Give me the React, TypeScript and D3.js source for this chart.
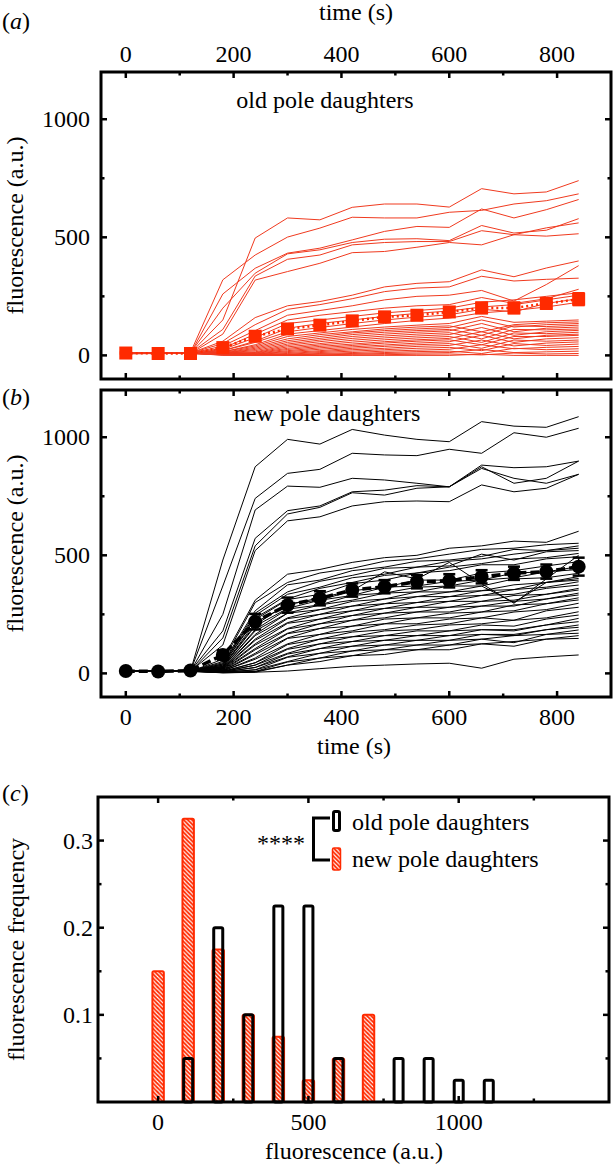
import React from 'react';
import * as d3 from 'd3';

// ---------- data ----------
const times = [0, 60, 120, 180, 240, 300, 360, 420, 480, 540, 600, 660, 720, 780, 840];

const oldPoleTraces: number[][] = [
  [12, 10, 10, 150, 497, 582, 574, 627, 641, 641, 628, 706, 684, 692, 740],
  [10, 8, 12, 320, 425, 501, 539, 585, 582, 582, 606, 614, 641, 655, 684],
  [8, 10, 8, 260, 369, 433, 454, 489, 525, 546, 542, 620, 582, 617, 660],
  [10, 12, 10, 200, 348, 430, 447, 478, 492, 494, 486, 550, 518, 530, 579],
  [6, 8, 10, 110, 336, 407, 425, 468, 478, 482, 482, 528, 511, 540, 561],
  [10, 10, 8, 90, 319, 355, 390, 435, 440, 458, 478, 468, 511, 505, 515],
  [8, 10, 10, 60, 160, 210, 228, 255, 290, 305, 312, 362, 333, 370, 400],
  [10, 8, 10, 50, 130, 195, 215, 240, 270, 285, 290, 335, 315, 322, 327],
  [10, 10, 8, 40, 105, 170, 190, 210, 235, 250, 255, 275, 230, 300, 380],
  [10, 8, 10, 30, 90, 150, 170, 185, 200, 210, 215, 245, 220, 240, 280],
  [8, 10, 8, 25, 75, 135, 150, 165, 180, 190, 200, 225, 235, 250, 265],
  [10, 10, 10, 20, 60, 115, 135, 150, 165, 178, 188, 205, 215, 235, 255],
  [8, 8, 10, 20, 55, 100, 118, 135, 150, 162, 172, 195, 185, 220, 240],
  [10, 8, 8, 15, 45, 90, 105, 120, 135, 148, 158, 180, 190, 205, 225],
  [8, 10, 10, 15, 40, 80, 95, 110, 120, 128, 135, 165, 140, 145, 150],
  [10, 10, 8, 12, 35, 70, 88, 100, 112, 120, 125, 100, 130, 138, 142],
  [8, 8, 10, 10, 30, 62, 80, 95, 105, 112, 118, 150, 120, 130, 135],
  [10, 10, 10, 10, 25, 55, 72, 88, 98, 105, 110, 85, 125, 122, 128],
  [8, 10, 8, 10, 20, 48, 65, 80, 90, 98, 104, 135, 100, 115, 120],
  [10, 8, 10, 10, 15, 42, 58, 72, 82, 90, 96, 70, 110, 108, 112],
  [8, 10, 10, 8, 12, 36, 50, 64, 74, 82, 88, 118, 85, 100, 106],
  [10, 10, 8, 8, 10, 30, 44, 56, 66, 74, 80, 55, 95, 92, 98],
  [8, 8, 10, 8, 8, 25, 38, 48, 58, 66, 72, 100, 70, 85, 90],
  [10, 10, 10, 8, 6, 20, 32, 42, 52, 60, 66, 45, 80, 80, 85],
  [8, 10, 8, 5, 5, 16, 26, 36, 44, 52, 58, 85, 55, 70, 75],
  [10, 8, 10, 5, 4, 12, 20, 30, 38, 45, 50, 30, 65, 60, 65],
  [8, 10, 8, 5, 3, 8, 16, 24, 30, 38, 42, 65, 40, 52, 57],
  [10, 10, 10, 5, 2, 5, 12, 18, 24, 30, 34, 20, 50, 42, 48],
  [8, 8, 10, 3, 2, 3, 8, 12, 18, 22, 26, 45, 28, 34, 38],
  [10, 10, 8, 3, 1, 2, 5, 8, 12, 16, 18, 8, 30, 24, 28],
  [8, 10, 10, 2, 0, 0, 2, 5, 8, 10, 12, 25, 12, 15, 18],
  [10, 8, 8, 2, 0, 0, 0, 2, 3, 5, 6, 2, 10, 6, 8],
  [8, 10, 10, 0, 0, 0, 0, 0, 0, 0, 0, 5, 0, 0, 0],
];

const newPoleTraces: number[][] = [
  [10, 8, 10, 480, 875, 991, 971, 1033, 1009, 991, 981, 1066, 1047, 1042, 1087],
  [8, 10, 10, 370, 741, 847, 864, 932, 925, 922, 949, 932, 1019, 1000, 1038],
  [10, 10, 8, 250, 692, 793, 788, 826, 819, 805, 790, 875, 805, 826, 899],
  [8, 8, 10, 180, 572, 689, 709, 769, 776, 795, 790, 882, 871, 875, 899],
  [10, 10, 8, 150, 540, 675, 703, 765, 755, 784, 790, 868, 826, 805, 843],
  [8, 10, 10, 120, 520, 646, 663, 709, 727, 730, 727, 798, 769, 784, 843],
  [10, 10, 8, 60, 310, 420, 440, 470, 490, 500, 530, 540, 560, 555, 602],
  [8, 10, 10, 50, 300, 385, 425, 445, 475, 485, 505, 525, 530, 545, 551],
  [10, 8, 10, 45, 265, 375, 395, 435, 450, 475, 480, 495, 525, 520, 540],
  [8, 10, 8, 40, 255, 345, 390, 415, 445, 450, 475, 485, 505, 520, 530],
  [10, 10, 10, 40, 245, 335, 365, 405, 420, 450, 455, 505, 480, 515, 520],
  [8, 8, 10, 35, 235, 315, 360, 385, 415, 425, 450, 465, 485, 490, 508],
  [10, 10, 8, 35, 228, 312, 335, 380, 395, 425, 435, 460, 460, 485, 494],
  [8, 10, 10, 30, 215, 290, 320, 350, 430, 400, 470, 380, 297, 400, 500],
  [10, 8, 10, 30, 205, 295, 310, 350, 365, 395, 395, 425, 435, 455, 473],
  [8, 10, 8, 28, 200, 275, 310, 330, 365, 370, 390, 395, 425, 430, 452],
  [10, 10, 10, 25, 185, 272, 290, 330, 340, 365, 370, 395, 405, 430, 440],
  [8, 8, 10, 25, 180, 255, 290, 310, 340, 345, 370, 370, 400, 405, 424],
  [10, 10, 8, 22, 165, 255, 270, 305, 315, 345, 345, 370, 300, 385, 410],
  [8, 10, 10, 20, 160, 235, 270, 285, 315, 325, 345, 350, 375, 385, 402],
  [10, 8, 10, 20, 145, 232, 250, 285, 295, 325, 325, 350, 355, 385, 395],
  [8, 10, 8, 18, 140, 215, 250, 265, 295, 300, 325, 330, 355, 365, 388],
  [10, 10, 10, 18, 125, 212, 230, 265, 275, 300, 305, 330, 335, 360, 374],
  [8, 8, 10, 15, 120, 190, 230, 245, 275, 280, 305, 305, 330, 335, 360],
  [10, 10, 8, 15, 105, 188, 210, 245, 255, 280, 280, 305, 310, 335, 353],
  [8, 10, 10, 12, 100, 170, 210, 225, 255, 260, 280, 285, 305, 315, 340],
  [10, 8, 10, 12, 85, 168, 190, 225, 235, 260, 260, 285, 285, 315, 332],
  [8, 10, 8, 10, 80, 150, 190, 200, 230, 235, 255, 260, 290, 295, 320],
  [10, 10, 10, 10, 65, 148, 165, 200, 210, 235, 235, 260, 265, 295, 311],
  [8, 8, 10, 10, 60, 125, 165, 180, 210, 210, 230, 235, 260, 270, 297],
  [10, 10, 8, 8, 45, 122, 145, 175, 185, 205, 210, 235, 225, 265, 280],
  [8, 10, 10, 8, 45, 105, 145, 155, 180, 185, 205, 210, 225, 235, 261],
  [10, 8, 10, 8, 35, 102, 125, 155, 160, 180, 180, 205, 200, 230, 247],
  [8, 10, 8, 6, 35, 85, 125, 135, 160, 160, 180, 185, 185, 205, 233],
  [10, 10, 10, 6, 25, 82, 105, 135, 140, 160, 160, 185, 180, 205, 219],
  [8, 8, 10, 5, 25, 70, 105, 115, 140, 140, 160, 165, 165, 185, 205],
  [10, 10, 8, 5, 15, 68, 85, 115, 120, 140, 140, 165, 160, 185, 195],
  [8, 10, 10, 5, 15, 50, 85, 95, 120, 120, 140, 145, 160, 165, 184],
  [10, 8, 10, 4, 8, 48, 65, 95, 100, 120, 120, 145, 130, 165, 170],
  [8, 10, 8, 4, 8, 35, 65, 75, 100, 100, 120, 125, 135, 145, 160],
  [10, 10, 10, 3, 5, 35, 50, 75, 80, 100, 100, 125, 115, 145, 148],
  [8, 8, 10, 2, 5, 10, 20, 30, 35, 40, 43, 22, 60, 70, 78],
];

const oldPoleMean = [10, 8, 8, 33, 81, 112, 128, 146, 163, 170, 184, 201, 201, 220, 238];
const oldPoleErr = [3, 3, 3, 10, 18, 18, 18, 20, 20, 20, 20, 22, 22, 22, 25];
const newPoleMean = [10, 8, 12, 78, 219, 289, 318, 353, 367, 388, 392, 409, 424, 431, 452];
const newPoleErr = [3, 3, 3, 20, 33, 32, 30, 28, 28, 28, 28, 28, 28, 30, 38];

const histBins = [0, 100, 200, 300, 400, 500, 600, 700, 800, 900, 1000, 1100];
const histOld = [0, 0.05, 0.2, 0.1, 0.225, 0.225, 0.05, 0, 0.05, 0.05, 0.025, 0.025];
const histNew = [0.15, 0.325, 0.175, 0.1, 0.075, 0.025, 0.05, 0.1, 0, 0, 0, 0];

const timeTickLabels = [0, 200, 400, 600, 800];
const fluorTickLabels = [0, 500, 1000];
const histXTickLabels = [0, 500, 1000];
const freqTickLabels = [0.1, 0.2, 0.3];

// ---------- styling ----------
const FONT = '"Liberation Serif", "Times New Roman", Times, serif';
const FS = 24;
const RED = '#ff2a00';
const RED_LINE = '#f03a1f';

const xT = d3.scaleLinear().domain([-46, 900]).range([101, 611]);
const yA = d3.scaleLinear().domain([-100, 1200]).range([379, 72]);
const yB = d3.scaleLinear().domain([-100, 1200]).range([697, 390]);
const xC = d3.scaleLinear().domain([-200, 1500]).range([98, 609]);
const yC = d3.scaleLinear().domain([0, 0.35]).range([1102, 797]);

function Frame({ x0, x1, y0, y1 }: { x0: number; x1: number; y0: number; y1: number }) {
  return <rect x={x0} y={y0} width={x1 - x0} height={y1 - y0} fill="none" stroke="#000" strokeWidth={3} />;
}

function TimePanel({ y, traces, color, mean, err, kind }: any) {
  const [x0, x1] = xT.range();
  const [yb, yt] = y.range();
  const line = d3.line<number>().x((_, i) => xT(times[i])).y((d) => y(d));
  const xTicks = d3.range(0, 900, 100);
  const yTicks = d3.range(0, 1001, 250);
  return (
    <g>
      {traces.map((tr: number[], i: number) => (
        <path key={i} d={line(tr) || ''} fill="none" stroke={color} strokeWidth={1} />
      ))}
      {kind === 'square' ? (
        <path d={line(mean) || ''} fill="none" stroke={RED} strokeWidth={2.5} strokeDasharray="2,3" />
      ) : (
        <path d={line(mean) || ''} fill="none" stroke="#000" strokeWidth={3.5} strokeDasharray="9,4" />
      )}
      {mean.map((m: number, i: number) => {
        const cx = xT(times[i]);
        const c = kind === 'square' ? RED : '#000';
        return (
          <g key={i}>
            <line x1={cx} x2={cx} y1={y(m - err[i])} y2={y(m + err[i])} stroke={c} strokeWidth={1.5} />
            <line x1={cx - 6} x2={cx + 6} y1={y(m - err[i])} y2={y(m - err[i])} stroke={c} strokeWidth={2.5} />
            <line x1={cx - 6} x2={cx + 6} y1={y(m + err[i])} y2={y(m + err[i])} stroke={c} strokeWidth={2.5} />
            {kind === 'square' ? (
              <rect x={cx - 6.5} y={y(m) - 6.5} width={13} height={13} fill={RED} />
            ) : (
              <circle cx={cx} cy={y(m)} r={7} fill="#000" />
            )}
          </g>
        );
      })}
      {xTicks.map((t) => {
        const len = t % 200 === 0 ? 6 : 3.5;
        return (
          <g key={'xt' + t}>
            <line x1={xT(t)} x2={xT(t)} y1={yt} y2={yt + len} stroke="#000" strokeWidth={2.5} />
            <line x1={xT(t)} x2={xT(t)} y1={yb} y2={yb - len} stroke="#000" strokeWidth={2.5} />
          </g>
        );
      })}
      {yTicks.map((v) => {
        const len = v % 500 === 0 ? 6 : 3.5;
        return (
          <g key={'yt' + v}>
            <line x1={x0} x2={x0 + len} y1={y(v)} y2={y(v)} stroke="#000" strokeWidth={2.5} />
            <line x1={x1} x2={x1 - len} y1={y(v)} y2={y(v)} stroke="#000" strokeWidth={2.5} />
          </g>
        );
      })}
      {fluorTickLabels.map((v) => (
        <text key={'yl' + v} x={90} y={y(v) + 8} textAnchor="end" fontSize={FS}>
          {v}
        </text>
      ))}
      <Frame x0={x0} x1={x1} y0={yt} y1={yb} />
      <text
        transform={`translate(23,${(yt + yb) / 2}) rotate(-90)`}
        textAnchor="middle"
        fontSize={FS}
      >
        fluorescence (a.u.)
      </text>
    </g>
  );
}

export default function App() {
  const [cx0, cx1] = xC.range();
  const [cyb, cyt] = yC.range();
  const halfNew = 19;
  const halfOld = 15;
  return (
    <svg
      width={614}
      height={1168}
      viewBox="0 0 614 1168"
      style={{ position: 'absolute', left: 0, top: 0, background: '#fff' }}
      fontFamily={FONT}
    >
      <defs>
        <pattern id="hatch" patternUnits="userSpaceOnUse" width={4.2} height={4.2}>
          <rect width={4.2} height={4.2} fill={RED} />
          <path d="M-1,-1 L5.2,5.2 M-1,3.2 L1,5.2 M3.2,-1 L5.2,1" stroke="#fff" strokeWidth={1.1} />
        </pattern>
      </defs>
      <rect x={0} y={0} width={614} height={1168} fill="#fff" />

      {/* panel (a) */}
      <text x={2} y={29} fontSize={FS}>
        (<tspan fontStyle="italic">a</tspan>)
      </text>
      <text x={356} y={20} textAnchor="middle" fontSize={FS}>time (s)</text>
      {timeTickLabels.map((t) => (
        <text key={'ta' + t} x={xT(t)} y={62} textAnchor="middle" fontSize={FS}>
          {t}
        </text>
      ))}
      <TimePanel y={yA} traces={oldPoleTraces} color={RED_LINE} mean={oldPoleMean} err={oldPoleErr} kind="square" />
      <text x={325} y={108} textAnchor="middle" fontSize={FS}>old pole daughters</text>

      {/* panel (b) */}
      <text x={2} y={405} fontSize={FS}>
        (<tspan fontStyle="italic">b</tspan>)
      </text>
      <TimePanel y={yB} traces={newPoleTraces} color="#000" mean={newPoleMean} err={newPoleErr} kind="circle" />
      <text x={327} y={421} textAnchor="middle" fontSize={FS}>new pole daughters</text>
      {timeTickLabels.map((t) => (
        <text key={'tb' + t} x={xT(t)} y={725} textAnchor="middle" fontSize={FS}>
          {t}
        </text>
      ))}
      <text x={354} y={754} textAnchor="middle" fontSize={FS}>time (s)</text>

      {/* panel (c) */}
      <text x={2} y={801} fontSize={FS}>
        (<tspan fontStyle="italic">c</tspan>)
      </text>
      {histBins.map((b, i) =>
        histNew[i] > 0 ? (
          <rect
            key={'n' + b}
            x={xC(b - halfNew)}
            y={yC(histNew[i])}
            width={xC(b + halfNew) - xC(b - halfNew)}
            height={yC(0) - yC(histNew[i])}
            fill="url(#hatch)"
            stroke={RED}
            strokeWidth={2}
            rx={1.5}
          />
        ) : null
      )}
      {histBins.map((b, i) =>
        histOld[i] > 0 ? (
          <rect
            key={'o' + b}
            x={xC(b - halfOld)}
            y={yC(histOld[i])}
            width={xC(b + halfOld) - xC(b - halfOld)}
            height={yC(0) - yC(histOld[i])}
            fill="none"
            stroke="#000"
            strokeWidth={3}
            rx={1.5}
          />
        ) : null
      )}
      {d3.range(0, 1251, 250).map((v) => {
        const len = v % 500 === 0 ? 6 : 3.5;
        return (
          <g key={'cx' + v}>
            <line x1={xC(v)} x2={xC(v)} y1={cyb} y2={cyb - len} stroke="#000" strokeWidth={2.5} />
            <line x1={xC(v)} x2={xC(v)} y1={cyt} y2={cyt + len} stroke="#000" strokeWidth={2.5} />
          </g>
        );
      })}
      {[1, 2, 3, 4, 5, 6].map((k) => {
        const v = k * 0.05;
        const len = k % 2 === 0 ? 6 : 3.5;
        return (
          <g key={'cy' + k}>
            <line x1={cx0} x2={cx0 + len} y1={yC(v)} y2={yC(v)} stroke="#000" strokeWidth={2.5} />
            <line x1={cx1} x2={cx1 - len} y1={yC(v)} y2={yC(v)} stroke="#000" strokeWidth={2.5} />
          </g>
        );
      })}
      <Frame x0={cx0} x1={cx1} y0={cyt} y1={cyb} />
      {freqTickLabels.map((v) => (
        <text key={'fl' + v} x={93} y={yC(v) + 8} textAnchor="end" fontSize={FS}>
          {v.toFixed(1)}
        </text>
      ))}
      {histXTickLabels.map((v) => (
        <text key={'hx' + v} x={xC(v)} y={1130} textAnchor="middle" fontSize={FS}>
          {v}
        </text>
      ))}
      <text x={354} y={1159} textAnchor="middle" fontSize={FS}>fluorescence (a.u.)</text>
      <text transform={`translate(24,${(cyt + cyb) / 2}) rotate(-90)`} textAnchor="middle" fontSize={FS}>
        fluorescence frequency
      </text>

      {/* legend */}
      <rect x={333.5} y={811.5} width={6} height={19} rx={1.5} fill="none" stroke="#000" strokeWidth={3} />
      <rect x={332.5} y={848} width={8} height={22} rx={1.5} fill="url(#hatch)" stroke={RED} strokeWidth={1.5} />
      <path d="M330,818 H313.5 V860 H330" fill="none" stroke="#000" strokeWidth={3} />
      <text x={305} y={851} textAnchor="end" fontSize={FS}>****</text>
      <text x={352} y={830} fontSize={FS}>old pole daughters</text>
      <text x={352} y={867} fontSize={FS}>new pole daughters</text>
    </svg>
  );
}
